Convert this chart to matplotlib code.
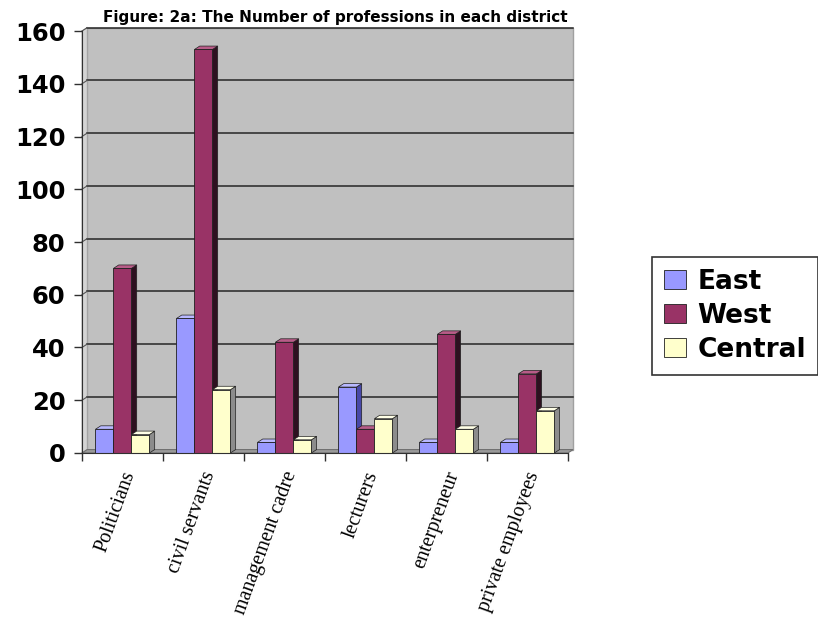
import matplotlib.pyplot as plt
from matplotlib.patches import Polygon
import numpy as np

categories = ['Politicians', 'civil servants', 'management cadre', 'lecturers',
              'enterpreneur', 'private employees']
series = ['East', 'West', 'Central']
east = [9, 51, 4, 25, 4, 4]
west = [70, 153, 42, 9, 45, 30]
central = [7, 24, 5, 13, 9, 16]

front = ['#9999ff', '#993366', '#ffffcc']
side = ['#4848a8', '#2e1020', '#8c8c8c']
top = ['#b8b8ff', '#b85c88', '#ffffe6']

fig = plt.figure(figsize=(8.18, 6.23), dpi=100)
ax = fig.add_axes([0.1002, 0.2729, 0.594, 0.6773])
ax.set_xlim(0, 6)
ax.set_ylim(0, 160)

dx, dy = 0.065, 1.3   # 3d depth offset
w = 0.222
x = np.arange(len(categories)) + 0.5

# back wall, side wall and floor
ax.add_patch(Polygon([(dx, dy), (6 + dx, dy), (6 + dx, 160 + dy), (dx, 160 + dy)],
                     closed=True, facecolor='#c0c0c0', edgecolor='#a0a0a0', lw=1, zorder=0,
                     clip_on=False))
ax.add_patch(Polygon([(0, 0), (dx, dy), (dx, 160 + dy), (0, 160)], closed=True,
                     facecolor='#d4d4d4', edgecolor='#a0a0a0', lw=0.6, zorder=0.5, clip_on=False))
ax.add_patch(Polygon([(0, 0), (6, 0), (6 + dx, dy), (dx, dy)], closed=True,
                     facecolor='#9a9a9a', edgecolor='#707070', lw=0.8, zorder=0.5, clip_on=False))
for g in range(20, 161, 20):
    ax.plot([dx, 6 + dx], [g + dy, g + dy], color='#262626', lw=1.1, zorder=0.6, clip_on=False)
    ax.plot([0, dx], [g, g + dy], color='#555555', lw=0.8, zorder=0.6, clip_on=False)

for i, vals in enumerate([east, west, central]):
    xs = x + (i - 1) * w
    ax.bar(xs, vals, width=w, color=front[i], edgecolor='#202020', lw=0.6,
           zorder=2 + 2 * i, label=series[i])
    for xc, v in zip(xs, vals):
        l, r = xc - w / 2, xc + w / 2
        ax.add_patch(Polygon([(r, 0), (r + dx, dy), (r + dx, v + dy), (r, v)], closed=True,
                             facecolor=side[i], edgecolor='#202020', lw=0.5, zorder=1 + 2 * i))
        ax.add_patch(Polygon([(l, v), (r, v), (r + dx, v + dy), (l + dx, v + dy)], closed=True,
                             facecolor=top[i], edgecolor='#202020', lw=0.5, zorder=1 + 2 * i))

ax.set_facecolor('none')
for s in ['top', 'right']:
    ax.spines[s].set_visible(False)
for s in ['left', 'bottom']:
    ax.spines[s].set_color('#303030')
    ax.spines[s].set_zorder(10)

ax.set_yticks(range(0, 161, 20))
ax.set_yticklabels([str(v) for v in range(0, 161, 20)], fontsize=17.5,
                   fontweight='bold', family='DejaVu Sans')
ax.set_xticks(range(0, 7))
ax.set_xticklabels([])
ax.tick_params(axis='both', length=6, width=1, color='#303030', direction='out')
ax.tick_params(axis='y', pad=6)

for xc, lab in zip(x, categories):
    ax.text(xc - 0.02, -6, lab, rotation=70, ha='right', va='top', rotation_mode='anchor',
            fontsize=14.5, family='Liberation Serif')

fig.text(0.410, 0.972, 'Figure: 2a: The Number of professions in each district',
         ha='center', va='center', fontsize=11, fontweight='bold', family='DejaVu Sans')

leg = fig.legend(loc='upper left', bbox_to_anchor=(0.797, 0.5875),
                 prop={'family': 'DejaVu Sans', 'weight': 'bold', 'size': 19},
                 frameon=True, fancybox=False, edgecolor='black', handlelength=0.85,
                 handleheight=0.75, handletextpad=0.42, labelspacing=0.3, borderpad=0.45,
                 borderaxespad=0)
leg.get_frame().set_linewidth(1.2)

fig.savefig('out.png', dpi=100)
